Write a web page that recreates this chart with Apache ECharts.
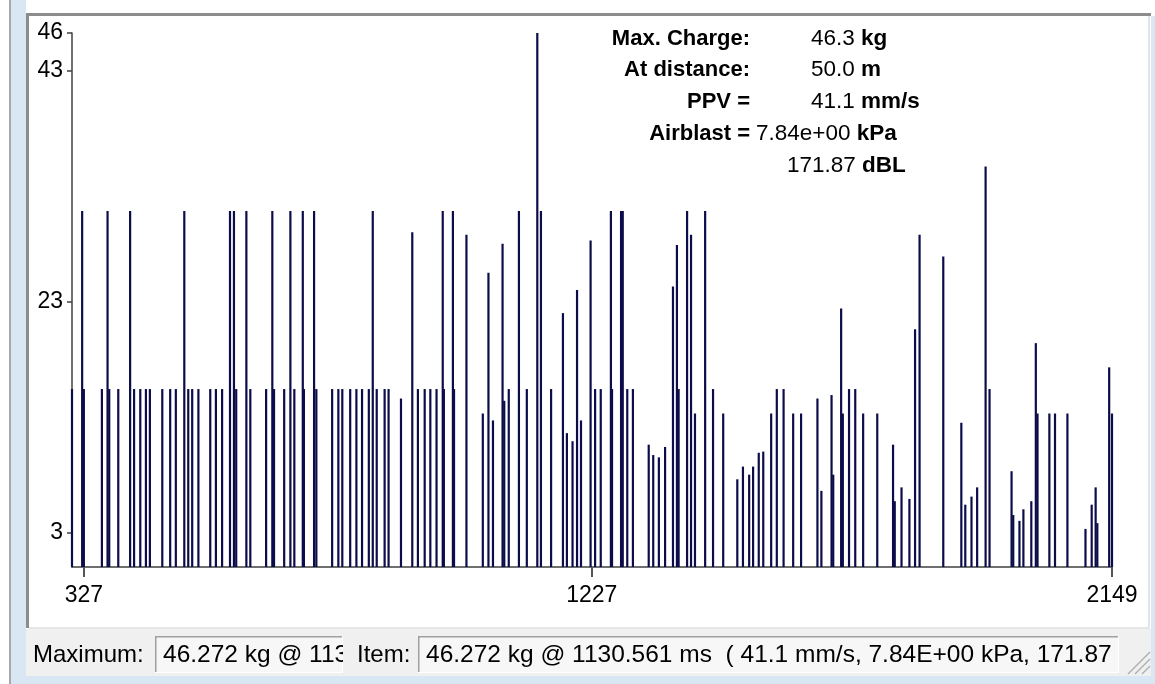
<!DOCTYPE html>
<html>
<head>
<meta charset="utf-8">
<title>Charge per delay</title>
<script src="https://cdn.jsdelivr.net/npm/echarts@6/dist/echarts.min.js"></script>
<style>
  html, body { margin: 0; padding: 0; background: #fff; }
  #chart { width: 1155px; height: 684px; }
</style>
</head>
<body>
<div id="chart"></div>
<script>
// delay times (ms) and charge per delay (kg)
const times = [
  306, 324, 327, 359, 369, 372, 388, 409, 416, 427, 437, 444, 466, 480, 490, 505, 512, 519, 530, 551,
  561, 572, 586, 593, 597, 615, 622, 650, 661, 664, 682, 693, 700, 715, 717, 735, 739, 767, 778, 785,
  799, 810, 820, 832, 839, 846, 860, 867, 889, 909, 919, 931, 941, 952, 963, 965, 981, 983, 1005, 1034,
  1044, 1052, 1069, 1072, 1080, 1098, 1112, 1130.561, 1137, 1155, 1176, 1183, 1193, 1201, 1208, 1225, 1233, 1243, 1261, 1263,
  1279, 1282, 1290, 1300, 1328, 1336, 1346, 1357, 1371, 1378, 1381, 1396, 1403, 1410, 1428, 1442, 1460, 1485, 1495, 1506,
  1513, 1523, 1531, 1545, 1555, 1567, 1584, 1598, 1627, 1634, 1652, 1655, 1669, 1672, 1683, 1694, 1708, 1733, 1761, 1764,
  1776, 1790, 1800, 1808, 1850, 1882, 1889, 1900, 1910, 1925, 1932, 1971, 1974, 1985, 1992, 2006, 2014, 2017, 2038, 2048,
  2070, 2102, 2113, 2120, 2123, 2144, 2149
];
const charges = [
  15.42, 30.85, 15.42, 15.42, 30.85, 15.42, 15.42, 30.85, 15.42, 15.42, 15.42, 15.42, 15.42, 15.42, 15.42, 30.85, 15.42, 15.42, 15.42, 15.42,
  15.42, 15.42, 30.85, 30.85, 15.42, 30.85, 15.42, 15.42, 30.85, 15.42, 15.42, 30.85, 15.42, 30.85, 15.42, 30.85, 15.42, 15.42, 15.42, 15.42,
  15.42, 15.42, 15.42, 15.42, 30.85, 15.42, 15.42, 15.42, 14.6, 29.0, 15.42, 15.42, 15.42, 15.42, 30.85, 15.42, 30.85, 15.42, 28.8, 13.3,
  25.5, 12.7, 28.0, 14.4, 15.42, 30.85, 15.42, 46.272, 30.85, 15.42, 22.0, 11.6, 10.9, 24.0, 12.7, 28.3, 15.42, 15.42, 30.85, 15.42,
  30.85, 30.85, 15.42, 15.42, 10.6, 9.7, 9.5, 10.4, 24.3, 27.9, 15.42, 30.85, 28.8, 13.3, 30.85, 15.42, 13.3, 7.6, 8.7, 8.0,
  8.7, 9.9, 10.0, 13.3, 15.42, 15.42, 13.3, 13.3, 14.6, 6.6, 14.9, 8.0, 22.4, 13.3, 15.42, 15.42, 13.3, 13.3, 10.6, 5.7,
  6.9, 5.9, 20.6, 28.8, 26.9, 12.5, 5.4, 6.1, 6.9, 34.7, 15.42, 8.3, 4.5, 4.0, 5.0, 5.7, 19.4, 13.3, 13.3, 13.3,
  13.3, 3.3, 5.4, 6.9, 3.8, 17.3, 13.3
];
const xTicks = [327, 1227, 2149];
const yTicks = [3, 23, 43, 46.272];
const yTickLabels = ['3', '23', '43', '46'];

const FONT = 'Liberation Sans, Arial, sans-serif';
const chart = echarts.init(document.getElementById('chart'));

function txt(x, y, text, align, size, bold, z) {
  return {
    type: 'text', x: x, y: y, z: z || 20, silent: true,
    style: {
      text: text, fill: '#000', align: align, verticalAlign: 'middle',
      fontSize: size, fontFamily: FONT, fontWeight: bold ? 'bold' : 'normal',
      rich: { b: { fontWeight: 'bold', fontSize: size, fontFamily: FONT, fill: '#000' } }
    }
  };
}
function box(x, y, w, h, fill, z) {
  return { type: 'rect', z: z || 1, silent: true, shape: { x: x, y: y, width: w, height: h }, style: { fill: fill } };
}
function inset(x, y, w, h, z) {
  return [
    box(x, y, w, h, '#f7f7f7', z),
    box(x, y, w, 1.5, '#a0a0a0', z + 1),
    box(x, y, 1.5, h, '#a0a0a0', z + 1),
    box(x, y + h - 1, w, 1, '#ffffff', z + 1),
    box(x + w - 1, y, 1, h, '#ffffff', z + 1)
  ];
}

const frame = [
  // window edges
  box(9, 0, 2, 684, '#a8a8a8', 1),
  box(11, 0, 15, 684, '#d9e6f4', 1),
  box(11, 676, 1144, 8, '#d9e6f4', 1),
  box(1151, 16, 4, 668, '#d9e6f4', 1),
  // plot panel sunken border
  box(26, 13, 1125, 3, '#8c8c8c', 2),
  box(26, 13, 3, 615, '#8c8c8c', 2),
  box(1148, 16, 2, 612, '#e3e3e3', 2),
  box(29, 627, 1121, 2, '#e6e6e6', 2),
  // status bar
  box(26, 629, 1125, 47, '#f0f0f0', 2),
  txt(33, 655, 'Maximum:', 'left', 24, false, 5)
].concat(inset(155, 636, 188, 37, 3), [
  txt(163, 655, '46.272 kg @ 1130.561 ms', 'left', 24.5, false, 6),
  box(343, 632, 75, 44, '#f0f0f0', 7),
  txt(357, 655, 'Item:', 'left', 24, false, 8)
], inset(418, 636, 701, 37, 8), [
  txt(426, 655, '46.272 kg @ 1130.561 ms  ( 41.1 mm/s, 7.84E+00 kPa, 171.87 dBL )', 'left', 24.5, false, 11),
  box(1119, 632, 32, 44, '#f0f0f0', 12),
  box(1151, 620, 4, 64, '#d9e6f4', 12),
  { type: 'line', z: 13, silent: true, shape: { x1: 1128, y1: 674, x2: 1150, y2: 652 }, style: { stroke: '#b0b0b0', lineWidth: 1.5 } },
  { type: 'line', z: 13, silent: true, shape: { x1: 1135, y1: 674, x2: 1150, y2: 659 }, style: { stroke: '#b0b0b0', lineWidth: 1.5 } },
  { type: 'line', z: 13, silent: true, shape: { x1: 1142, y1: 674, x2: 1150, y2: 666 }, style: { stroke: '#b0b0b0', lineWidth: 1.5 } },
  // blast summary
  txt(750, 39, 'Max. Charge:', 'right', 22, true),
  txt(811, 39, '46.3 {b|kg}', 'left', 22.5, false),
  txt(750, 70, 'At distance:', 'right', 22, true),
  txt(811, 70, '50.0 {b|m}', 'left', 22.5, false),
  txt(750, 102, 'PPV =', 'right', 22, true),
  txt(811, 102, '41.1 {b|mm/s}', 'left', 22.5, false),
  txt(750, 134, 'Airblast =', 'right', 22, true),
  txt(756, 134, '7.84e+00 {b|kPa}', 'left', 22.5, false),
  txt(787, 166, '171.87 {b|dBL}', 'left', 22.5, false)
]);

chart.setOption({
  animation: false,
  backgroundColor: '#ffffff',
  grid: { left: 72, right: 43, top: 33, bottom: 117, outerBoundsMode: 'none' },
  xAxis: {
    type: 'value',
    min: 306,
    max: 2149,
    axisLine: { show: true, onZero: false, lineStyle: { color: '#404040', width: 1.5 } },
    axisTick: { show: true, customValues: xTicks, length: 10, lineStyle: { color: '#555', width: 2 } },
    axisLabel: {
      customValues: xTicks, color: '#000', fontSize: 23, fontFamily: FONT, margin: 17,
      formatter: v => String(v)
    },
    splitLine: { show: false }
  },
  yAxis: {
    type: 'value',
    min: 0,
    max: 46.272,
    axisLine: { show: true, lineStyle: { color: '#404040', width: 1.5 } },
    axisTick: { show: true, customValues: yTicks, length: 5, lineStyle: { color: '#404040', width: 1.5 } },
    axisLabel: {
      customValues: yTicks, color: '#000', fontSize: 23, fontFamily: FONT, margin: 9,
      formatter: v => yTickLabels[yTicks.indexOf(v)] ?? String(Math.round(v))
    },
    splitLine: { show: false }
  },
  series: [{
    name: 'Charge',
    type: 'bar',
    barWidth: 2.2,
    silent: true,
    itemStyle: { color: '#0c0c4a' },
    data: times.map((t, i) => [t, charges[i]])
  }],
  graphic: { elements: frame }
});
</script>
</body>
</html>
